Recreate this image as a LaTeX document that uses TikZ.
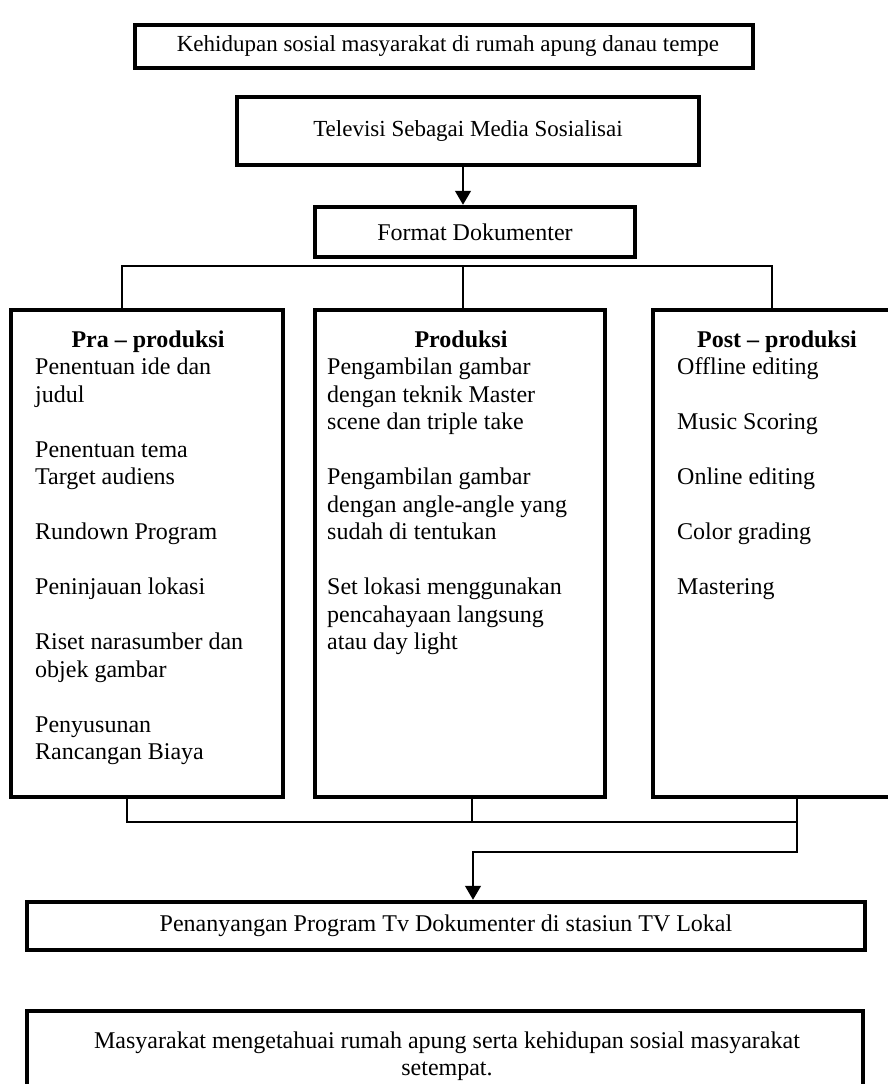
\documentclass[tikz,border=0pt]{standalone}
\usepackage{fontspec}
\setmainfont{Liberation Serif}
\usetikzlibrary{arrows.meta}
\newcommand\myfs{\fontsize{24}{27.5}\selectfont}
\newcommand\mysmfs{\fontsize{23}{27.5}\selectfont}
\begin{document}
\begin{tikzpicture}[x=1pt,y=-1pt,
  box/.style={draw, line width=4.5pt, inner sep=0pt, font=\myfs},
  conn/.style={line width=1.3pt},
  arr/.style={conn, -{Triangle[length=14pt,width=16pt]}},
  item/.style={anchor=base west, inner sep=0pt, font=\myfs},
  ttl/.style={anchor=base, inner sep=0pt, font=\myfs\bfseries}]
\useasboundingbox[fill=white] (0,0) rectangle (888,1084);

% top boxes
\node[box, minimum width=618pt, minimum height=43pt, font=\mysmfs] (top) at (444,46.5) {\hspace*{8pt}Kehidupan sosial masyarakat di rumah apung danau tempe};
\node[box, minimum width=462pt, minimum height=68pt, font=\mysmfs] (tele) at (468,131) {Televisi Sebagai Media Sosialisai};
\node[box, minimum width=320pt, minimum height=50pt] (fmt) at (475,232) {Format Dokumenter};

% column boxes
\node[box, minimum width=272pt, minimum height=487pt] (pra) at (147,553.5) {};
\node[box, minimum width=290pt, minimum height=487pt] (prod) at (460,553.5) {};
\node[box, minimum width=248pt, minimum height=487pt] (post) at (777,553.5) {};

% bottom boxes
\node[box, minimum width=838pt, minimum height=48pt] (tv) at (446,926) {Penanyangan Program Tv Dokumenter di stasiun TV Lokal};
\node[box, minimum width=836pt, minimum height=109pt] (res) at (445,1065.5) {};
\node[inner sep=0pt, font=\myfs, align=center] (restxt) at (447,1056) {Masyarakat mengetahuai rumah apung serta kehidupan sosial masyarakat\\setempat.};

% titles
\node[ttl] (prat) at (148,347) {Pra – produksi};
\node[ttl] (prodt) at (461,347) {Produksi};
\node[ttl] (postt) at (777,347) {Post – produksi};

% items
\foreach \k/\t in {0/Penentuan ide dan, 1/judul, 3/Penentuan tema, 4/Target audiens, 6/Rundown Program, 8/Peninjauan lokasi, 10/Riset narasumber dan, 11/objek gambar, 13/Penyusunan, 14/Rancangan Biaya}
  \node[item] (pra\k) at (35,374.5+27.5*\k) {\t};
\foreach \k/\t in {0/Pengambilan gambar, 1/dengan teknik Master, 2/scene dan triple take, 4/Pengambilan gambar, 5/dengan angle-angle yang, 6/sudah di tentukan, 8/Set lokasi menggunakan, 9/pencahayaan langsung, 10/atau day light}
  \node[item] (prod\k) at (327,374.5+27.5*\k) {\t};
\foreach \k/\t in {0/Offline editing, 2/Music Scoring, 4/Online editing, 6/Color grading, 8/Mastering}
  \node[item] (post\k) at (677,374.5+27.5*\k) {\t};

% connectors
\coordinate (ax) at (463,0);
\draw[arr] (tele.south -| ax) -- (fmt.north -| ax);

\coordinate (bus) at (463,266);
\coordinate (xa) at (122,0);
\coordinate (xc) at (772,0);
\draw[conn] (pra.north -| xa) |- (bus) -| (post.north -| xc);
\draw[conn] (bus) -- (prod.north -| bus);

\coordinate (pa) at (127,822);
\coordinate (pb) at (472,822);
\coordinate (pc) at (797,852);
\coordinate (ta) at (473,0);
\draw[conn] (pra.south -| pa) -- (pa) -- (pa -| pc);
\draw[conn] (prod.south -| pb) -- (pb);
\draw[arr] (post.south -| pc) -- (pc) -| (tv.north -| ta);
\end{tikzpicture}
\end{document}
